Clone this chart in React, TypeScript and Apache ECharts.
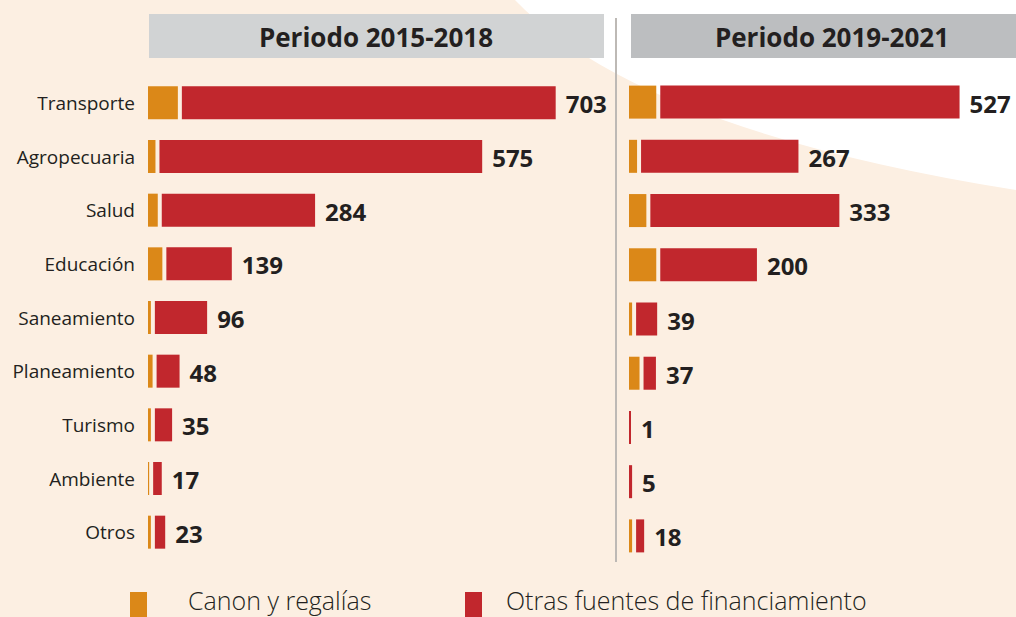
import React, { useEffect, useRef } from "react";
import * as echarts from "echarts";

const categories = [
  "Transporte",
  "Agropecuaria",
  "Salud",
  "Educación",
  "Saneamiento",
  "Planeamiento",
  "Turismo",
  "Ambiente",
  "Otros",
];

// Periodo 2015-2018
const canonA = [52, 13, 17, 25, 5, 8, 5, 2, 5];
const totalA = [703, 575, 284, 139, 96, 48, 35, 17, 23];

// Periodo 2019-2021
const canonB = [44, 13, 28, 44, 5, 17, 0, 0, 5];
const totalB = [527, 267, 333, 200, 39, 37, 1, 5, 18];

const titleA = "Periodo 2015-2018";
const titleB = "Periodo 2019-2021";
const legendNames = ["Canon y regalías", "Otras fuentes de financiamiento"];

const ORANGE = "#DB8818";
const RED = "#C1272D";
const BG = "#FCEFE2";
const TXT = "#231F20";
const FONT = "'Open Sans', 'Noto Sans', sans-serif";
const BAR_H = 33;
const GAP = 4;

let registered = false;
function registerShapes() {
  if (registered) return;
  registered = true;
  const Curve = (echarts.graphic as any).extendPath(
    "M515 0 Q640 130 1016 190 L1016 0 Z",
    {}
  );
  (echarts.graphic as any).registerShape("bgCurve", Curve);
}

function makeData(canon: number[], total: number[]) {
  return categories.map((_, i) => [i, canon[i], total[i]]);
}

function orangeRender(params: any, api: any) {
  const i = api.value(0);
  const c = api.value(1);
  if (!c) return null;
  const p0 = api.coord([0, i]);
  const p1 = api.coord([c, i]);
  return {
    type: "rect",
    shape: { x: p0[0], y: p0[1] - BAR_H / 2, width: Math.max(1, p1[0] - p0[0]), height: BAR_H },
    style: { fill: ORANGE },
  };
}

function redRender(params: any, api: any) {
  const i = api.value(0);
  const c = api.value(1);
  const t = api.value(2);
  const pc = api.coord([c, i]);
  const pt = api.coord([t, i]);
  const off = c > 0 ? GAP : 0;
  const x0 = pc[0] + off;
  const w = Math.max(2, pt[0] - pc[0]);
  const x1 = x0 + w;
  return {
    type: "group",
    children: [
      {
        type: "rect",
        shape: { x: x0, y: pc[1] - BAR_H / 2, width: w, height: BAR_H },
        style: { fill: RED },
      },
      {
        type: "text",
        style: {
          text: String(t),
          x: x1 + 10,
          y: pc[1] + 1,
          fill: TXT,
          fontSize: 24,
          fontWeight: 700,
          fontFamily: FONT,
          verticalAlign: "middle",
          align: "left",
        },
      },
    ],
  };
}

export default function App() {
  const ref = useRef<HTMLDivElement>(null);
  useEffect(() => {
    if (!ref.current) return;
    registerShapes();
    const chart = echarts.init(ref.current, undefined, { renderer: "svg" });
    const option: any = {
      animation: false,
      backgroundColor: BG,
      grid: [
        { left: 148, top: 76, width: 468, height: 483 },
        { left: 629, top: 75, width: 378, height: 488 },
      ],
      xAxis: [
        { type: "value", gridIndex: 0, min: 0, max: 815, show: false },
        { type: "value", gridIndex: 1, min: 0, max: 610, show: false },
      ],
      yAxis: [
        {
          type: "category",
          gridIndex: 0,
          data: categories,
          inverse: true,
          axisLine: { show: false },
          axisTick: { show: false },
          splitLine: { show: false },
          axisLabel: {
            margin: 13,
            fontSize: 19,
            color: TXT,
            fontFamily: FONT,
          },
        },
        {
          type: "category",
          gridIndex: 1,
          data: categories,
          inverse: true,
          show: false,
        },
      ],
      graphic: [
        {
          type: "bgCurve",
          x: 0,
          y: 0,
          z: -10,
          style: { fill: "#FFFFFF" },
          silent: true,
        },
        {
          type: "rect",
          shape: { x: 149, y: 14, width: 455, height: 44 },
          style: { fill: "#D1D3D4" },
        },
        {
          type: "rect",
          shape: { x: 631, y: 14, width: 400, height: 44 },
          style: { fill: "#BCBEC0" },
        },
        {
          type: "text",
          style: {
            text: titleA,
            x: 376,
            y: 37,
            align: "center",
            verticalAlign: "middle",
            fill: TXT,
            fontSize: 26,
            fontWeight: 700,
            fontFamily: FONT,
          },
        },
        {
          type: "text",
          style: {
            text: titleB,
            x: 832,
            y: 37,
            align: "center",
            verticalAlign: "middle",
            fill: TXT,
            fontSize: 26,
            fontWeight: 700,
            fontFamily: FONT,
          },
        },
        {
          type: "line",
          shape: { x1: 616, y1: 18, x2: 616, y2: 562 },
          style: { stroke: "#BDB9B5", lineWidth: 2 },
        },
        {
          type: "rect",
          shape: { x: 130, y: 592, width: 17, height: 26 },
          style: { fill: ORANGE },
        },
        {
          type: "text",
          style: {
            text: legendNames[0],
            x: 188,
            y: 600,
            verticalAlign: "middle",
            fill: TXT,
            fontSize: 25,
            fontWeight: 300,
            fontFamily: FONT,
          },
        },
        {
          type: "rect",
          shape: { x: 465, y: 592, width: 17, height: 26 },
          style: { fill: RED },
        },
        {
          type: "text",
          style: {
            text: legendNames[1],
            x: 506,
            y: 600,
            verticalAlign: "middle",
            fill: TXT,
            fontSize: 25,
            fontWeight: 300,
            fontFamily: FONT,
          },
        },
      ],
      series: [
        {
          name: legendNames[0],
          type: "custom",
          xAxisIndex: 0,
          yAxisIndex: 0,
          renderItem: orangeRender,
          encode: { x: [1, 2], y: 0 },
          data: makeData(canonA, totalA),
          itemStyle: { color: ORANGE },
        },
        {
          name: legendNames[1],
          type: "custom",
          xAxisIndex: 0,
          yAxisIndex: 0,
          renderItem: redRender,
          encode: { x: [1, 2], y: 0 },
          data: makeData(canonA, totalA),
          itemStyle: { color: RED },
        },
        {
          name: legendNames[0],
          type: "custom",
          xAxisIndex: 1,
          yAxisIndex: 1,
          renderItem: orangeRender,
          encode: { x: [1, 2], y: 0 },
          data: makeData(canonB, totalB),
          itemStyle: { color: ORANGE },
        },
        {
          name: legendNames[1],
          type: "custom",
          xAxisIndex: 1,
          yAxisIndex: 1,
          renderItem: redRender,
          encode: { x: [1, 2], y: 0 },
          data: makeData(canonB, totalB),
          itemStyle: { color: RED },
        },
      ],
    };
    chart.setOption(option);
    return () => chart.dispose();
  }, []);
  return (
    <div
      ref={ref}
      style={{ position: "fixed", left: 0, top: 0, width: 1016, height: 617 }}
    />
  );
}
